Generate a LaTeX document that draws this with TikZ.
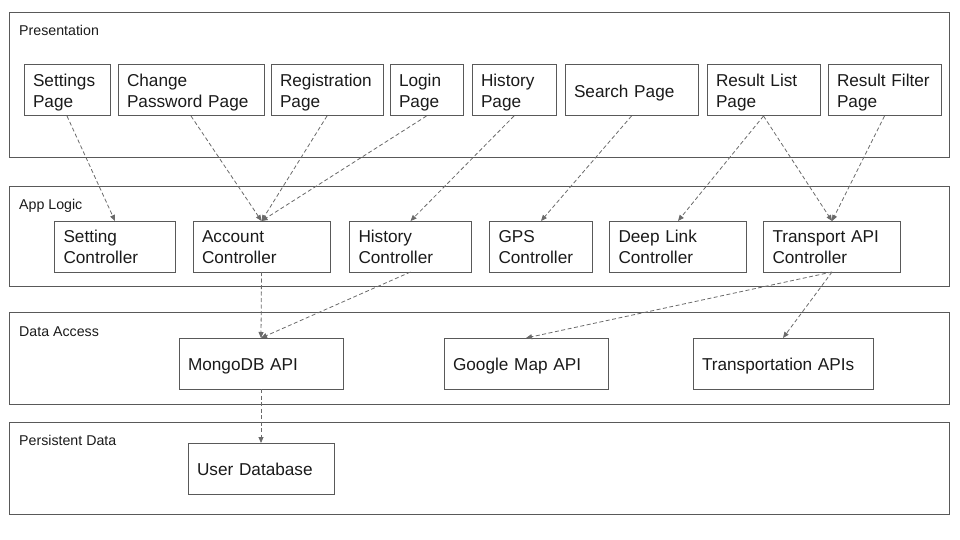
\documentclass[tikz,border=0pt]{standalone}
\usepackage{fontspec}
\setmainfont{Liberation Sans}
\usepackage{tikz}
\usetikzlibrary{positioning,arrows.meta}

\definecolor{framegray}{HTML}{595959}
\definecolor{dashgray}{HTML}{6A6A6A}
\definecolor{inkblack}{HTML}{1A1A1A}

\begin{document}
\begin{tikzpicture}[x=1pt,y=-1pt,
    layer/.style={draw=framegray, line width=1pt, anchor=north west, minimum width=939.5pt, inner sep=0pt, outer sep=0pt},
    layername/.style={anchor=base west, inner sep=0pt, font=\fontsize{14.2}{17}\selectfont, text=inkblack},
    unit/.style={draw=framegray, line width=1pt, anchor=north west, minimum height=51pt, inner xsep=9pt, inner ysep=0pt,
        outer sep=0pt, align=left, font=\fontsize{17.2}{21}\selectfont, text=inkblack, text width=#1,
        execute at begin node={\rule{0pt}{17.5pt}}, execute at end node={\rule[-4pt]{0pt}{4pt}}},
    dep/.style={draw=dashgray, line width=0.8pt, dash pattern=on 4pt off 2.5pt, -{Triangle[length=6pt,width=5pt]}}]
                \useasboundingbox (0,0) rectangle (960,540);
                \node[layer, minimum height=145.5pt] (pres) at (9.5,12.5) {};
                \node[layer, minimum height=100pt] (logic) at (9.5,186) {};
                \node[layer, minimum height=91.5pt] (access) at (9.5,312.5) {};
                \node[layer, minimum height=92pt] (persist) at (9.5,422) {};
                \node[layername] (presname) at ([shift={(9.5pt,-23.5pt)}]pres.north west) {Presentation};
                \node[layername] (logicname) at ([shift={(9.5pt,-23.5pt)}]logic.north west) {App Logic};
                \node[layername] (accessname) at ([shift={(9.5pt,-23.5pt)}]access.north west) {Data Access};
                \node[layername] (persistname) at ([shift={(9.5pt,-23.5pt)}]persist.north west) {Persistent Data};
                \node[unit=68pt] (settingspage) at (24,65) {Settings\\Page};
                \node[unit=128pt, right=8pt of settingspage] (passwordpage) {Change\\Password~Page};
                \node[unit=94pt, right=7pt of passwordpage] (registerpage) {Registration\\Page};
                \node[unit=55pt, right=7pt of registerpage] (loginpage) {Login\\Page};
                \node[unit=66pt, right=9pt of loginpage] (historypage) {History\\Page};
                \node[unit=115pt, right=9pt of historypage] (searchpage) {Search~Page};
                \node[unit=95pt, right=9pt of searchpage] (listpage) {Result~List\\Page};
                \node[unit=95pt, right=8pt of listpage] (filterpage) {Result~Filter\\Page};
                \node[unit=103pt] (settingctrl) at (54.5,221) {Setting\\Controller};
                \node[unit=119pt, right=17.5pt of settingctrl] (accountctrl) {Account\\Controller};
                \node[unit=104pt, right=19.5pt of accountctrl] (historyctrl) {History\\Controller};
                \node[unit=85pt, right=18pt of historyctrl] (gpsctrl) {GPS\\Controller};
                \node[unit=119pt, right=17pt of gpsctrl] (linkctrl) {Deep~Link\\Controller};
                \node[unit=119pt, right=17pt of linkctrl] (transportctrl) {Transport~API\\Controller};
                \node[unit=146pt] (mongoapi) at (179,338) {MongoDB~API};
                \node[unit=146pt, right=101pt of mongoapi] (mapapi) {Google~Map~API};
                \node[unit=162pt, right=85pt of mapapi] (transportapis) {Transportation~APIs};
                \node[unit=128pt] (userdb) at (188,443) {User~Database};
                \draw[dep] (settingspage.south) -- (settingctrl.north);
                \draw[dep] (passwordpage.south) -- (accountctrl.north);
                \draw[dep] (registerpage.south) -- (accountctrl.north);
                \draw[dep] (loginpage.south) -- (accountctrl.north);
                \draw[dep] (historypage.south) -- (historyctrl.north);
                \draw[dep] (searchpage.south) -- (gpsctrl.north);
                \draw[dep] (listpage.south) -- (linkctrl.north);
                \draw[dep] (listpage.south) -- (transportctrl.north);
                \draw[dep] (filterpage.south) -- (transportctrl.north);
                \draw[dep] (accountctrl.south) -- (mongoapi.north);
                \draw[dep] (historyctrl.south) -- (mongoapi.north);
                \draw[dep] (transportctrl.south) -- (mapapi.north);
                \draw[dep] (transportctrl.south) -- (transportapis.north);
                \draw[dep] (mongoapi.south) -- (userdb.north);
            \end{tikzpicture}
\end{document}
